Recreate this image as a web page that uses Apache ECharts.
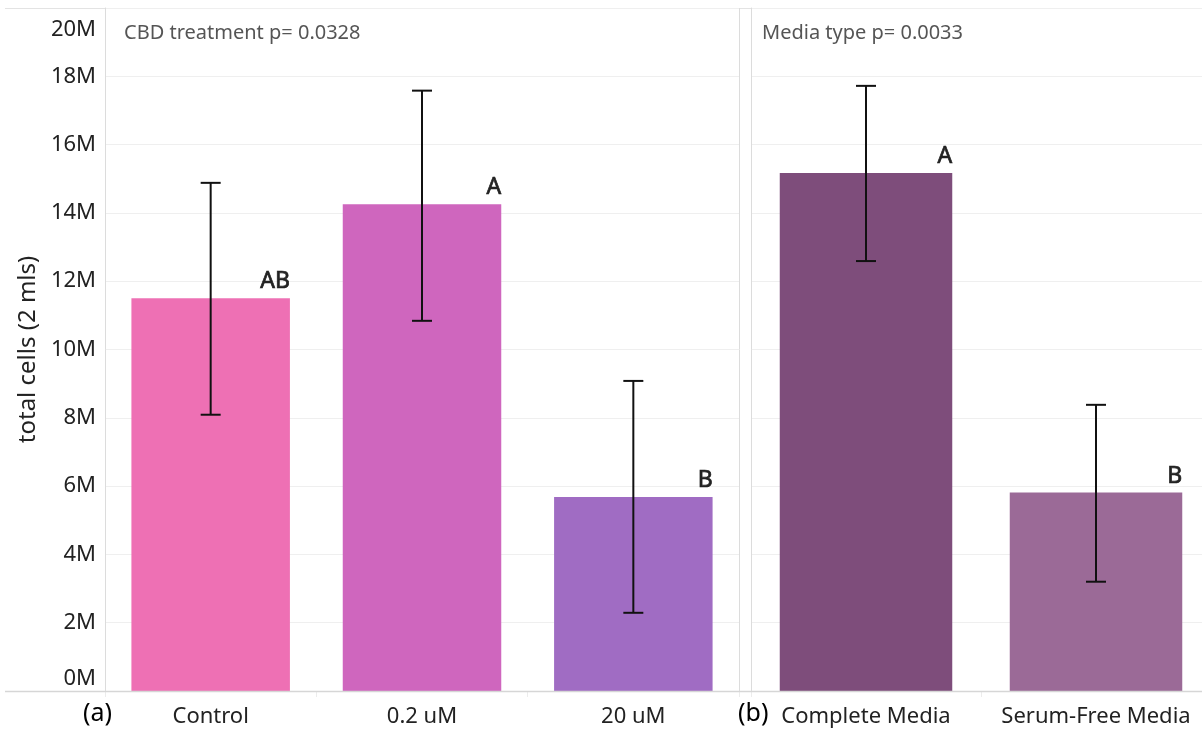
<!DOCTYPE html>
<html>
<head>
<meta charset="utf-8">
<title>Total cells by CBD treatment and media type</title>
<script src="https://cdn.jsdelivr.net/npm/echarts@6/dist/echarts.min.js"></script>
<style>
  html, body { margin: 0; padding: 0; background: #fff; }
  #chart { width: 1202px; height: 730px; }
</style>
</head>
<body>
<div id="chart"></div>
<script>
// ---- data: panel (a), CBD treatment ----
const cbdCategories = ['Control', '0.2 uM', '20 uM'];
const cbdMeans = [11.50e6, 14.25e6, 5.68e6];
const cbdLower = [8.09e6, 10.84e6, 2.29e6];
const cbdUpper = [14.88e6, 17.58e6, 9.08e6];
const cbdLetters = ['AB', 'A', 'B'];
const cbdTitle = 'CBD treatment p= 0.0328';

// ---- data: panel (b), media type ----
const mediaCategories = ['Complete Media', 'Serum-Free Media'];
const mediaMeans = [15.17e6, 5.81e6];
const mediaLower = [12.59e6, 3.20e6];
const mediaUpper = [17.72e6, 8.38e6];
const mediaLetters = ['A', 'B'];
const mediaTitle = 'Media type p= 0.0033';

const yAxisTitle = 'total cells (2 mls)';
const panelTags = ['(a)', '(b)'];

// ---- styling ----
const FONT = '"Noto Sans", "DejaVu Sans", sans-serif';
const cbdPalette = ['#ee70b4', '#cf66be', '#a06cc3'];
const mediaPalette = ['#7e4d7b', '#9b6a97'];
const frameColor = '#dcdcdc';
const gridLineColor = '#efefef';
const textColor = '#222';

const chart = echarts.init(document.getElementById('chart'), null, { renderer: 'canvas' });

function errorBarItem(params, api) {
  const x = api.value(0);
  const lo = api.coord([x, api.value(1)]);
  const hi = api.coord([x, api.value(2)]);
  const hw = 10;
  const style = { stroke: '#111', lineWidth: 2 };
  return {
    type: 'group',
    children: [
      { type: 'line', shape: { x1: lo[0], y1: lo[1], x2: hi[0], y2: hi[1] }, style },
      { type: 'line', shape: { x1: hi[0] - hw, y1: hi[1], x2: hi[0] + hw, y2: hi[1] }, style },
      { type: 'line', shape: { x1: lo[0] - hw, y1: lo[1], x2: lo[0] + hw, y2: lo[1] }, style }
    ]
  };
}

function barSeries(idx, means, palette, letters) {
  return {
    type: 'bar',
    xAxisIndex: idx,
    yAxisIndex: idx,
    barWidth: '75%',
    data: means.map((v, i) => ({ value: v, itemStyle: { color: palette[i] } })),
    label: {
      show: true,
      position: ['100%', 0],
      align: 'right',
      verticalAlign: 'bottom',
      offset: [0, -5],
      formatter: p => letters[p.dataIndex],
      fontFamily: FONT,
      fontSize: 23,
      fontWeight: 'normal',
      color: '#222',
      textBorderColor: '#222',
      textBorderWidth: 0.7
    },
    emphasis: { disabled: true },
    z: 2
  };
}

function errorSeries(idx, lower, upper) {
  return {
    type: 'custom',
    xAxisIndex: idx,
    yAxisIndex: idx,
    renderItem: errorBarItem,
    encode: { x: 0, y: [1, 2] },
    data: lower.map((lo, i) => [i, lo, upper[i]]),
    z: 5,
    silent: true
  };
}

function xAxis(idx, cats) {
  return {
    type: 'category',
    gridIndex: idx,
    data: cats,
    axisLine: { show: true, lineStyle: { color: frameColor, width: 1 } },
    axisTick: { show: true, length: 6, lineStyle: { color: '#ececec' } },
    axisLabel: { interval: 0, hideOverlap: false, fontFamily: FONT, fontSize: 22, color: textColor, margin: 15 }
  };
}

function yAxis(idx, withLabels) {
  const ax = {
    type: 'value',
    gridIndex: idx,
    min: 0,
    max: 20e6,
    interval: 2e6,
    axisLine: { show: true, lineStyle: { color: frameColor } },
    axisTick: { show: false },
    splitLine: { show: true, lineStyle: { color: gridLineColor, width: 1 } },
    axisLabel: { show: false }
  };
  if (withLabels) {
    ax.axisLabel = {
      show: true,
      margin: 9,
      fontFamily: FONT,
      fontSize: 22,
      color: textColor,
      formatter: v => {
        const s = Math.round(v / 1e6) + 'M';
        if (v >= 20e6) return '{hi|' + s + '}';
        if (v <= 0) return '{lo|' + s + '}';
        return s;
      },
      rich: {
        hi: { fontFamily: FONT, fontSize: 22, color: textColor, padding: [44, 0, 0, 0] },
        lo: { fontFamily: FONT, fontSize: 22, color: textColor, padding: [0, 0, 24, 0] }
      }
    };
    ax.name = yAxisTitle;
    ax.nameLocation = 'middle';
    ax.nameGap = 64;
    ax.nameTextStyle = { fontFamily: FONT, fontSize: 24, color: textColor };
  }
  return ax;
}

const titleStyle = { fontFamily: FONT, fontSize: 20, fontWeight: 'normal', color: '#555' };

const option = {
  animation: false,
  backgroundColor: '#fff',
  textStyle: { fontFamily: FONT },
  grid: [
    { left: 105, top: 8, width: 634, bottom: 39, outerBoundsMode: 'none', containLabel: false },
    { left: 751, top: 8, width: 460, bottom: 39, outerBoundsMode: 'none', containLabel: false }
  ],
  title: [
    { text: cbdTitle, left: 124, top: 23, padding: 0, textStyle: titleStyle },
    { text: mediaTitle, left: 762, top: 23, padding: 0, textStyle: titleStyle }
  ],
  xAxis: [xAxis(0, cbdCategories), xAxis(1, mediaCategories)],
  yAxis: [yAxis(0, true), yAxis(1, false)],
  series: [
    barSeries(0, cbdMeans, cbdPalette, cbdLetters),
    errorSeries(0, cbdLower, cbdUpper),
    barSeries(1, mediaMeans, mediaPalette, mediaLetters),
    errorSeries(1, mediaLower, mediaUpper)
  ],
  graphic: [
    // frame: top rule, baseline, panel separator
    { type: 'line', silent: true, z: 0, shape: { x1: 5, y1: 8.5, x2: 1202, y2: 8.5 }, style: { stroke: '#e3e3e3', lineWidth: 1 } },
    { type: 'line', silent: true, z: 10, shape: { x1: 5, y1: 691.5, x2: 1202, y2: 691.5 }, style: { stroke: '#d6d6d6', lineWidth: 1.5 } },
    { type: 'line', silent: true, z: 0, shape: { x1: 739.5, y1: 8, x2: 739.5, y2: 691 }, style: { stroke: frameColor, lineWidth: 1 } },
    { type: 'text', left: 83, top: 701, style: { text: panelTags[0], font: '25px ' + FONT, fill: '#000' } },
    { type: 'text', left: 738, top: 701, style: { text: panelTags[1], font: '25px ' + FONT, fill: '#000' } }
  ]
};

chart.setOption(option);
</script>
</body>
</html>
